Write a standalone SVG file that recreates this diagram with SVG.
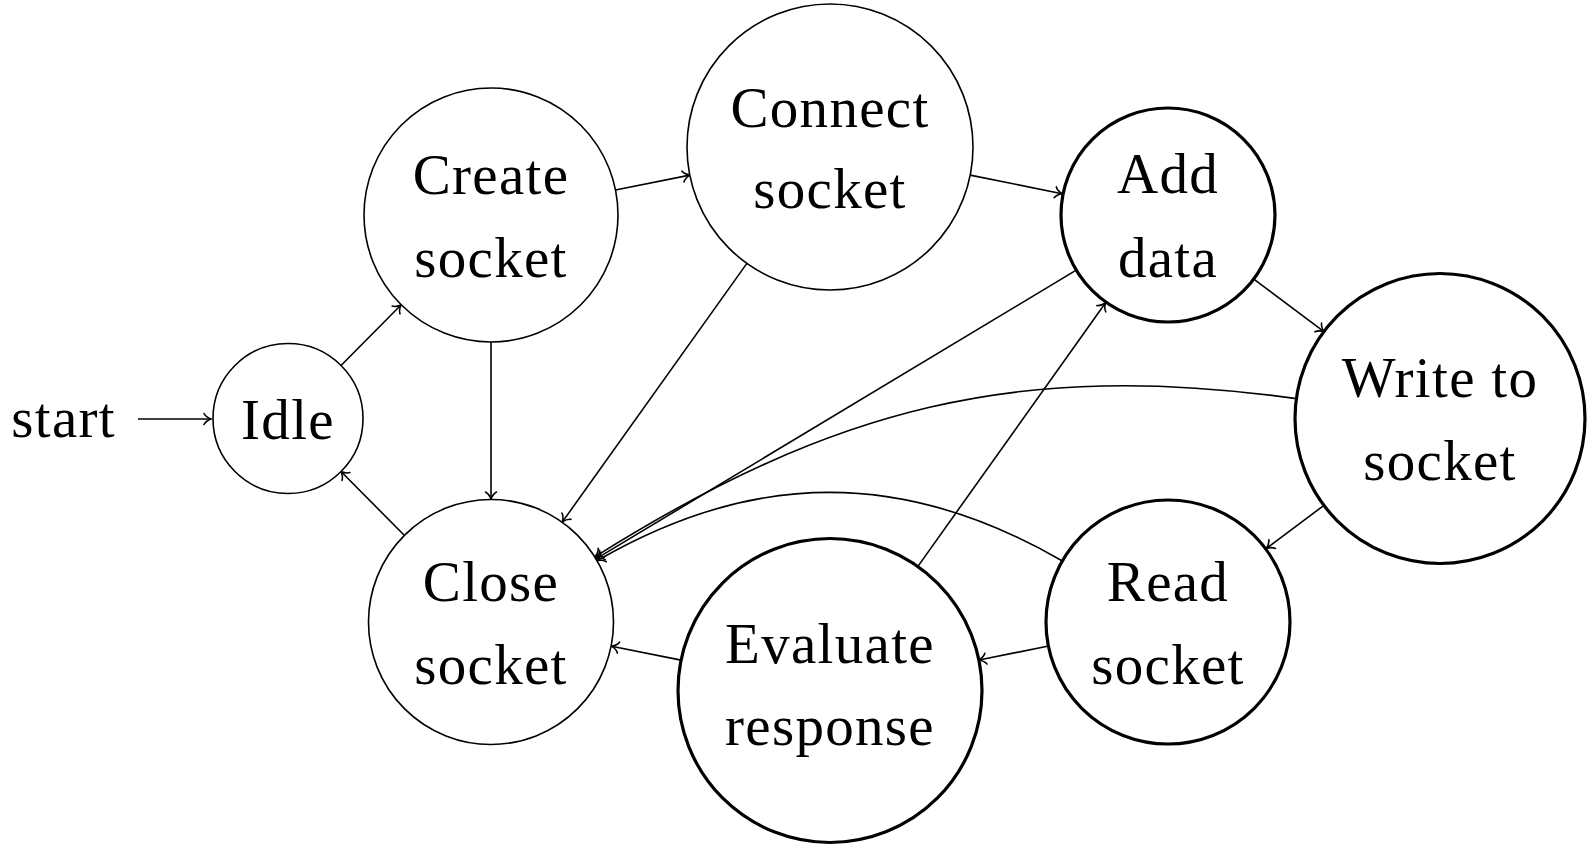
<svg xmlns="http://www.w3.org/2000/svg" width="1590" height="848" viewBox="0 0 1590 848">
<style>
  .st { fill: #fff; stroke: #000; stroke-width: 1.6; }
  .acc { fill: #fff; stroke: #000; stroke-width: 3.2; }
  .lbl { font-family: "Liberation Serif", "DejaVu Serif", serif; font-size: 57px; letter-spacing: 1.3px; fill: #000; text-anchor: middle; }
  .e { fill: none; stroke: #000; stroke-width: 1.6; marker-end: url(#arr); }
</style>
<defs>
  <marker id="arr" markerUnits="userSpaceOnUse" viewBox="-10 -10 20 20" markerWidth="20" markerHeight="20" refX="0" refY="0" orient="auto" overflow="visible">
    <path d="M -7,-5.5 C -5.5,-2.5 -1.5,-0.6 0,0 C -1.5,0.6 -5.5,2.5 -7,5.5" fill="none" stroke="#000" stroke-width="1.6" stroke-linecap="round"/>
  </marker>
</defs>
<rect width="1590" height="848" fill="#fff"/>
<g id="connectors">
  <line class="e" x1="138" y1="419" x2="211" y2="419"/>
  <line class="e" x1="341" y1="365.5" x2="401" y2="305"/>
  <line class="e" x1="615.5" y1="190" x2="689.8" y2="175.1"/>
  <line class="e" x1="970.2" y1="175.1" x2="1062.1" y2="193.7"/>
  <line class="e" x1="1254.5" y1="279.7" x2="1323.9" y2="331.6"/>
  <line class="e" x1="1323.9" y1="505.4" x2="1266.5" y2="548.3"/>
  <line class="e" x1="1047.4" y1="646.3" x2="979" y2="660"/>
  <line class="e" x1="681" y1="660.1" x2="611.6" y2="646.2"/>
  <line class="e" x1="404" y1="535" x2="341" y2="471.5"/>
  <line class="e" x1="491" y1="342" x2="491" y2="499"/>
  <line class="e" x1="746.9" y1="263.4" x2="562.4" y2="521.9"/>
  <line class="e" x1="1075.4" y1="270.6" x2="596.4" y2="558.6"/>
  <line class="e" x1="918.1" y1="566.1" x2="1105.4" y2="303"/>
  <path class="e" d="M1296.4,398.6 C1017.7,359.9 833.6,407.1 595.2,556.6"/>
  <path class="e" d="M1061.5,560.5 C904.1,469.6 754.9,469.6 597.5,560.5"/>
</g>
<g id="start">
  <text class="lbl" x="116" y="437" style="text-anchor:end">start</text>
</g>
<g id="idle">
  <circle class="st" cx="288" cy="418.5" r="75"/>
  <text class="lbl" x="288" y="439">Idle</text>
</g>
<g id="create-socket">
  <circle class="st" cx="491" cy="215" r="127"/>
  <text class="lbl" x="491" y="194">Create</text>
  <text class="lbl" x="491" y="277">socket</text>
</g>
<g id="connect-socket">
  <circle class="st" cx="830" cy="147" r="143"/>
  <text class="lbl" x="830" y="127">Connect</text>
  <text class="lbl" x="830" y="208">socket</text>
</g>
<g id="add-data">
  <circle class="acc" cx="1168" cy="215" r="107"/>
  <text class="lbl" x="1168" y="193">Add</text>
  <text class="lbl" x="1168" y="277">data</text>
</g>
<g id="write-to-socket">
  <circle class="acc" cx="1440" cy="418.5" r="145"/>
  <text class="lbl" x="1440" y="397">Write to</text>
  <text class="lbl" x="1440" y="480">socket</text>
</g>
<g id="read-socket">
  <circle class="acc" cx="1168" cy="622" r="122"/>
  <text class="lbl" x="1168" y="601">Read</text>
  <text class="lbl" x="1168" y="684">socket</text>
</g>
<g id="evaluate-response">
  <circle class="acc" cx="830" cy="690.5" r="152"/>
  <text class="lbl" x="830" y="663">Evaluate</text>
  <text class="lbl" x="830" y="745">response</text>
</g>
<g id="close-socket">
  <circle class="st" cx="491" cy="622" r="122.5"/>
  <text class="lbl" x="491" y="601">Close</text>
  <text class="lbl" x="491" y="684">socket</text>
</g>
</svg>
